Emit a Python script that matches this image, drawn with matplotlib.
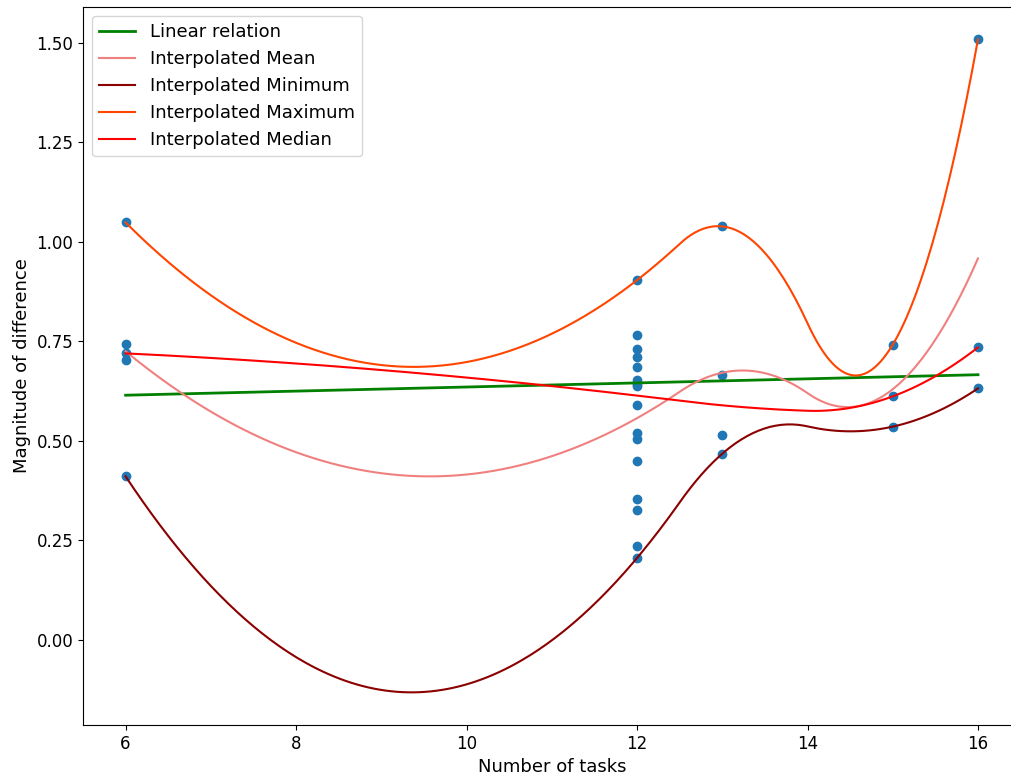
import numpy as np
import matplotlib
matplotlib.use("Agg")
import matplotlib.pyplot as plt

# Observed points: number of tasks -> magnitude of difference
tasks_6 = [1.048, 0.742, 0.719, 0.702, 0.410]
tasks_12 = [0.903, 0.764, 0.729, 0.709, 0.685, 0.652, 0.642, 0.636,
            0.590, 0.519, 0.504, 0.448, 0.354, 0.325, 0.236, 0.205]
tasks_13 = [1.038, 0.664, 0.513, 0.467]
tasks_15 = [0.741, 0.611, 0.535]
tasks_16 = [1.508, 0.734, 0.631]

groups = {6: tasks_6, 12: tasks_12, 13: tasks_13, 15: tasks_15, 16: tasks_16}

xs = np.array(sorted(groups.keys()), dtype=float)
x_all = np.concatenate([[k] * len(v) for k, v in groups.items()]).astype(float)
y_all = np.concatenate([v for v in groups.values()])

means = np.array([np.mean(groups[k]) for k in sorted(groups)])
mins = np.array([np.min(groups[k]) for k in sorted(groups)])
maxs = np.array([np.max(groups[k]) for k in sorted(groups)])
medians = np.array([np.median(groups[k]) for k in sorted(groups)])


def quad_spline(x, y, xnew):
    # interpolating quadratic spline, knots at Greville midpoints
    # (inner ones dropped, as scipy's make_interp_spline(k=2) does)
    mids = (x[1:] + x[:-1]) / 2.0
    knots = mids[1:-1]

    def basis(z):
        cols = [np.ones_like(z), z, z**2] + [np.clip(z - kn, 0, None)**2 for kn in knots]
        return np.column_stack(cols)

    c = np.linalg.solve(basis(x), y)
    return basis(xnew) @ c


xd = np.linspace(xs.min(), xs.max(), 300)

fig = plt.figure(figsize=(10.12, 7.75), dpi=100)
ax = fig.add_axes([83 / 1012, 50 / 775, (1020.6 - 83) / 1012, (725 - 6.7) / 775])

ax.scatter(x_all, y_all, color="#1f77b4", zorder=1)

coef = np.polyfit(x_all, y_all, 1)
ax.plot(x_all, np.polyval(coef, x_all), color="green", linewidth=2, label="Linear relation")
ax.plot(xd, quad_spline(xs, means, xd), color="lightcoral", label="Interpolated Mean")
ax.plot(xd, quad_spline(xs, mins, xd), color="darkred", label="Interpolated Minimum")
ax.plot(xd, quad_spline(xs, maxs, xd), color="orangered", label="Interpolated Maximum")
ax.plot(xd, quad_spline(xs, medians, xd), color="red", label="Interpolated Median")

ax.set_xlabel("Number of tasks", fontsize=13)
ax.set_ylabel("Magnitude of difference", fontsize=13)
ax.tick_params(labelsize=12)
ax.legend(fontsize=13, loc="upper left")

fig.savefig("out.png", dpi=100)
